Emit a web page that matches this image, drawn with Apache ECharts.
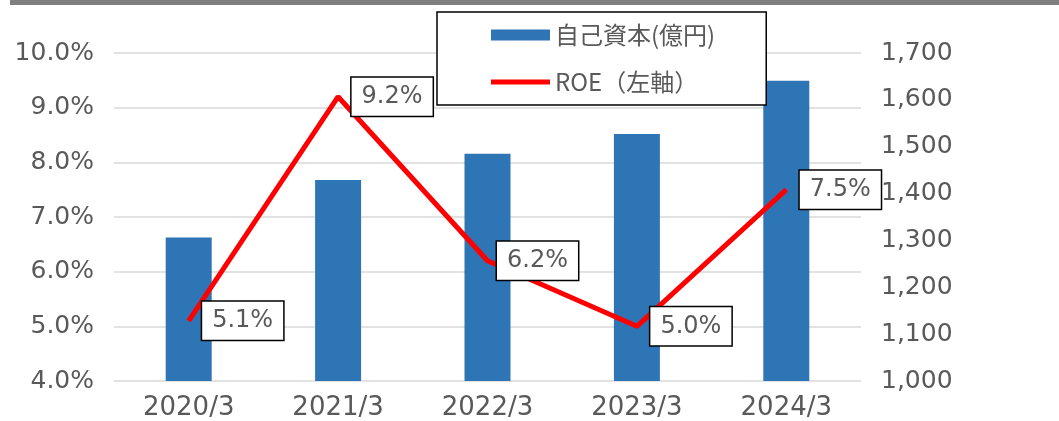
<!DOCTYPE html>
<html>
<head>
<meta charset="utf-8">
<script src="https://cdn.jsdelivr.net/npm/echarts@6/dist/echarts.min.js"></script>
<style>
  html, body { margin: 0; padding: 0; background: #fff; }
  #myCharts { width: 1059px; height: 421px; }
</style>
</head>
<body>
<div id="myCharts"></div>
<script>
// 決算期
var years = ['2020/3', '2021/3', '2022/3', '2023/3', '2024/3']
// 自己資本（億円）
var equity = [1306, 1429, 1485, 1527, 1641]
// ROE（%）
var roe = [5.1, 9.2, 6.2, 5.0, 7.5]
var equityName = '自己資本(億円)'
var roeName = 'ROE（左軸）'

var myCharts = echarts.init(document.getElementById('myCharts'))
var grey = '#595959'
var latin = 'DejaVu Sans'
var cjk = '"Noto Sans CJK JP"'

var roeData = roe.map(function (v, i) {
  var item = { value: v }
  if (i === 2) item.label = { distance: 9 }
  return item
})

var options = {
  animation: false,
  // 上の灰色の帯
  graphic: [{
    type: 'rect',
    shape: { x: 10, y: 0, width: 1049, height: 5 },
    style: { fill: '#7f7f7f' }
  }],
  legend: {
    orient: 'vertical',
    left: 437,
    top: 12,
    padding: [11, 51, 11, 54],
    itemGap: 23,
    itemWidth: 59,
    itemHeight: 11,
    borderColor: '#000',
    borderWidth: 1.5,
    backgroundColor: '#fff',
    textStyle: { fontFamily: cjk, fontSize: 24, color: grey, lineHeight: 24 },
    data: [
      { name: equityName, icon: 'rect' },
      { name: roeName, icon: 'path://M0,0H60V5H0Z' }
    ]
  },
  grid: {
    left: 114,
    right: 198,
    top: 53,
    bottom: 40
  },
  xAxis: {
    type: 'category',
    data: years,
    axisLine: { show: false },
    axisTick: { show: false },
    axisLabel: { margin: 14, fontFamily: latin, fontSize: 26, color: grey }
  },
  yAxis: [
    {
      type: 'value',
      min: 4,
      max: 10,
      interval: 1,
      splitLine: { lineStyle: { color: '#d9d9d9', width: 1.5 } },
      axisLabel: {
        margin: 20,
        fontFamily: latin,
        fontSize: 25,
        color: grey,
        formatter: function (v) { return v.toFixed(1) + '%' }
      }
    },
    {
      type: 'value',
      min: 1000,
      max: 1700,
      interval: 100,
      splitLine: { show: false },
      axisLabel: {
        margin: 20,
        fontFamily: latin,
        fontSize: 25,
        color: grey,
        formatter: function (v) { return v.toLocaleString('en-US') }
      }
    }
  ],
  series: [
    {
      name: equityName,
      type: 'bar',
      yAxisIndex: 1,
      barWidth: 46,
      itemStyle: { color: '#2e75b6' },
      data: equity
    },
    {
      name: roeName,
      type: 'line',
      yAxisIndex: 0,
      symbol: 'circle',
      symbolSize: 1,
      itemStyle: { color: '#ff0000' },
      lineStyle: { color: '#ff0000', width: 5 },
      z: 3,
      label: {
        show: true,
        position: 'right',
        distance: 13,
        fontFamily: latin,
        fontSize: 24,
        color: grey,
        backgroundColor: '#fff',
        borderColor: '#000',
        borderWidth: 1.5,
        padding: [6, 10, 4, 10],
        lineHeight: 28,
        formatter: function (p) { return p.value.toFixed(1) + '%' }
      },
      data: roeData
    }
  ]
}
myCharts.setOption(options)
</script>
</body>
</html>
